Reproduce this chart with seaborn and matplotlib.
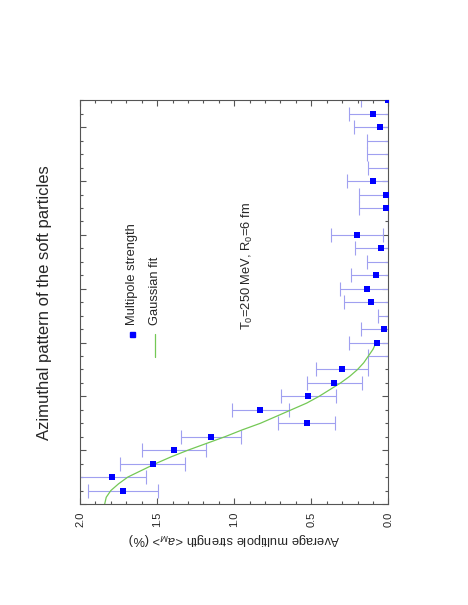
import matplotlib
matplotlib.use("Agg")
import matplotlib.pyplot as plt
from matplotlib.ticker import MultipleLocator, FormatStrFormatter
import seaborn as sns

order = list(range(1, 31))
strength = [1.72, 1.79, 1.53, 1.39, 1.15, 0.53, 0.83, 0.52, 0.35, 0.30,
            -0.04, 0.075, 0.03, -0.10, 0.11, 0.14, 0.08, -0.03, 0.05, 0.205,
            -0.165, 0.013, 0.013, 0.10, -0.04, -0.03, -0.03, 0.055, 0.10, 0.006]
strength_err = [0.227, 0.22, 0.213, 0.205, 0.195, 0.183, 0.182, 0.178, 0.18, 0.17,
                0.17, 0.178, 0.15, 0.17, 0.175, 0.175, 0.162, 0.17, 0.167, 0.169,
                0.17, 0.18, 0.18, 0.17, 0.17, 0.17, 0.17, 0.166, 0.158, 0.174]

# gaussian fit curve
fit_order = [0, 0.5, 1, 1.5, 2, 2.5, 3, 3.5, 4, 4.5, 5, 5.5, 6,
             6.5, 7, 7.5, 8, 8.5, 9, 9.5, 10, 10.5, 11, 11.5, 12]
fit_strength = [1.84, 1.83, 1.80, 1.75, 1.69, 1.60, 1.51, 1.41, 1.30, 1.18, 1.06, 0.95, 0.83,
                0.73, 0.63, 0.53, 0.45, 0.38, 0.31, 0.25, 0.20, 0.16, 0.13, 0.10, 0.08]

sns.set_theme(style="ticks")
plt.rcParams['font.family'] = ['Liberation Sans', 'DejaVu Sans']
plt.rcParams['mathtext.fontset'] = 'custom'
plt.rcParams['mathtext.rm'] = 'Liberation Sans'
plt.rcParams['mathtext.it'] = 'Liberation Sans:italic'

blue = '#0000ff'
err_col = '#a0a0f0'
green = '#74c855'
spine_col = '#555555'

fig = plt.figure(figsize=(4.68, 6.05), dpi=100)
ax = fig.add_axes([0.171, 0.167, 0.659, 0.667])

# the page is turned on its side: strength runs horizontally, M runs upward
ax.errorbar(strength, order, xerr=strength_err, fmt='none', ecolor=err_col,
            elinewidth=0.8, capsize=4.7, capthick=0.8)
sns.lineplot(x=fit_strength, y=fit_order, sort=False, color=green, linewidth=0.9, ax=ax)
sns.scatterplot(x=strength, y=order, marker='s', s=14, color=blue, linewidth=0, ax=ax, zorder=3)

ax.set_xlim(2.0, 0.0)
ax.set_ylim(0, 30)
ax.xaxis.set_major_locator(MultipleLocator(0.5))
ax.xaxis.set_minor_locator(MultipleLocator(0.1))
ax.xaxis.set_major_formatter(FormatStrFormatter('%.1f'))
ax.yaxis.set_major_locator(MultipleLocator(4))
ax.yaxis.set_minor_locator(MultipleLocator(1))
ax.tick_params(which='both', direction='in', top=True, right=True,
               labelleft=False, color=spine_col, width=0.8)
ax.tick_params(which='major', length=4, pad=5.5, labelsize=8)
ax.tick_params(which='minor', length=2.2)
for lab in ax.get_xticklabels():
    lab.set_rotation(90)
for sp in ax.spines.values():
    sp.set_color(spine_col)
    sp.set_linewidth(0.8)

ax.set_xlabel(r'Average multipole strength <$a_M$> (%)', fontsize=9.3, rotation=180, labelpad=3)
ax.set_ylabel('')

# legend, drawn by hand because it is turned too
ax.plot([0.168], [0.4215], 's', color=blue, markersize=3.6, transform=ax.transAxes)
ax.text(0.167, 0.444, 'Multipole strength', rotation=90, ha='center', va='bottom',
        fontsize=9.3, transform=ax.transAxes)
ax.plot([0.244, 0.244], [0.4215, 0.3645], color=green, linewidth=0.9, transform=ax.transAxes)
ax.text(0.244, 0.444, 'Gaussian fit', rotation=90, ha='center', va='bottom',
        fontsize=9.3, transform=ax.transAxes)

ax.text(0.543, 0.4315, r'T$_0$=250 MeV, R$_0$=6 fm', rotation=90, ha='center', va='bottom',
        fontsize=9.3, transform=ax.transAxes)

fig.text(0.096, 0.5, 'Azimuthal pattern of the soft particles', rotation=90,
         ha='center', va='center', fontsize=12)

fig.savefig('out.png', dpi=100)
